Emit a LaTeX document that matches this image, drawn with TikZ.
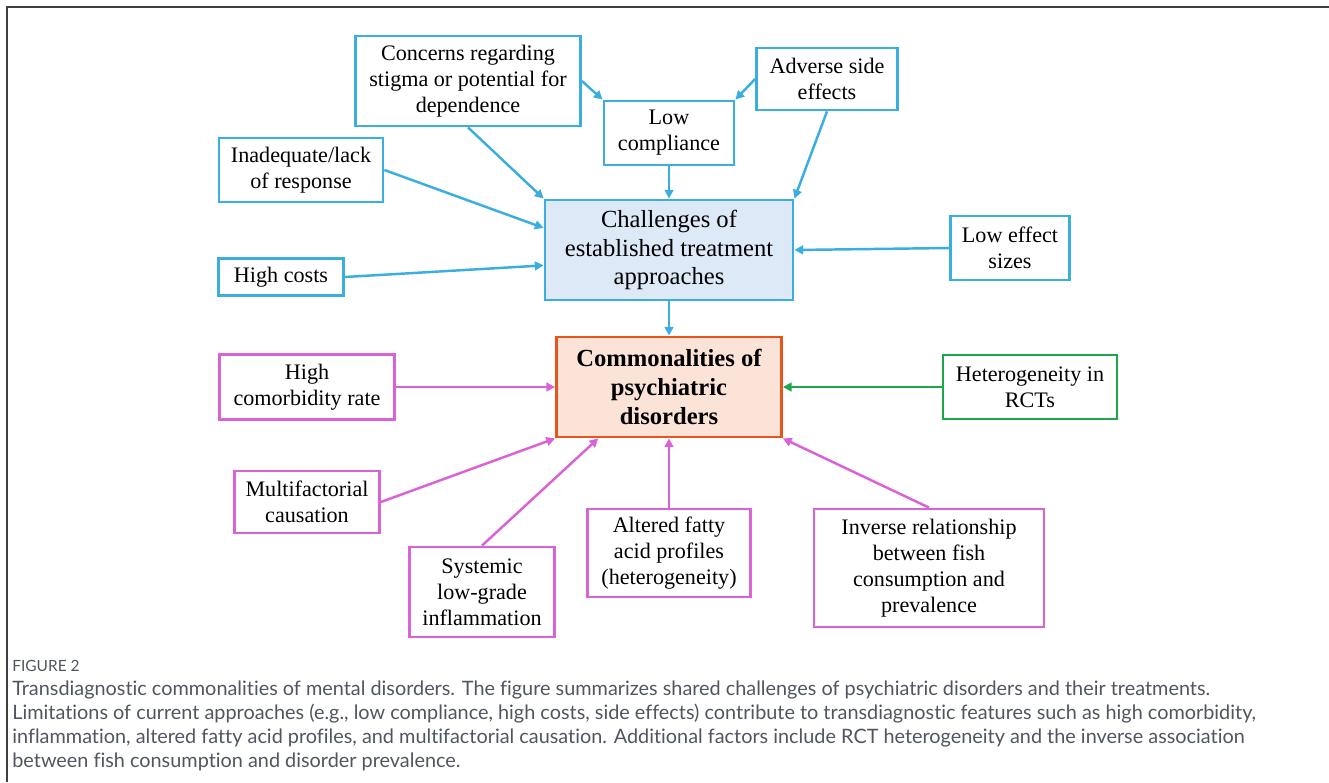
\documentclass[tikz,border=0pt]{standalone}
\usepackage{fontspec}
\setmainfont{Liberation Serif}
\newfontfamily\capfont[Ligatures=CommonOff]{Lato}
\usetikzlibrary{arrows.meta}

\definecolor{boxblue}{HTML}{3AAEE0}
\definecolor{boxpink}{HTML}{D862D6}
\definecolor{boxgreen}{HTML}{1BA84B}
\definecolor{boxorange}{HTML}{E8541C}
\definecolor{fillblue}{HTML}{DDE9F6}
\definecolor{fillorange}{HTML}{FBE3D7}
\definecolor{capgray}{HTML}{50565F}

\begin{document}
\begin{tikzpicture}[x=0.02cm, y=-0.02cm,
    sub/.style={draw, line width=1.6pt, fill=white, align=center, inner sep=0pt,
        font=\fontsize{12.6}{14.8}\selectfont},
    bluebox/.style={sub, draw=boxblue},
    pinkbox/.style={sub, draw=boxpink},
    greenbox/.style={sub, draw=boxgreen},
    hub/.style={draw, line width=1.6pt, align=center, inner sep=0pt,
        minimum width=4.5cm, minimum height=2cm, font=\fontsize{14}{16.4}\selectfont},
    link/.style={line width=1.4pt, -{Triangle[length=5pt,width=5pt]}},
]
    \useasboundingbox (0,0) rectangle (1329,782);

    % Frame (open to the right and bottom)
    \draw[line width=0.9pt, black!75] (7,782) -- (7,7) -- (1329,7);

    % Central nodes
    \node[hub, draw=boxblue, fill=fillblue, minimum width=4.96cm] (challenges) at (669,250)
        {Challenges of\\established treatment\\approaches};
    \node[hub, draw=boxorange, fill=fillorange, font=\fontsize{14}{16.4}\selectfont\bfseries] (common) at (669,387)
        {Commonalities of\\psychiatric\\disorders};

    % Treatment challenges (blue)
    \node[bluebox, minimum width=4.5cm, minimum height=1.8cm] (concerns) at (468,81)
        {Concerns regarding\\stigma or potential for\\dependence};
    \node[bluebox, minimum width=2.6cm, minimum height=1.28cm] (lowcomp) at (669,133)
        {Low\\compliance};
    \node[bluebox, minimum width=2.82cm, minimum height=1.24cm] (adverse) at (827,79)
        {Adverse side\\effects};
    \node[bluebox, minimum width=3.28cm, minimum height=1.28cm] (inadequate) at (301,170)
        {Inadequate/lack\\of response};
    \node[bluebox, minimum width=2.5cm, minimum height=0.74cm] (costs) at (281,277)
        {High costs};
    \node[bluebox, minimum width=2.38cm, minimum height=1.28cm] (effect) at (1010,248)
        {Low effect\\sizes};

    % Commonalities (pink, green)
    \node[pinkbox, minimum width=3.5cm, minimum height=1.3cm] (comorb) at (307,387)
        {High\\comorbidity rate};
    \node[greenbox, minimum width=3.48cm, minimum height=1.28cm] (rcts) at (1030,387)
        {Heterogeneity in\\RCTs};
    \node[pinkbox, minimum width=2.9cm, minimum height=1.24cm] (multif) at (307,502)
        {Multifactorial\\causation};
    \node[pinkbox, minimum width=2.9cm, minimum height=1.8cm] (systemic) at (482,592)
        {Systemic\\low-grade\\inflammation};
    \node[pinkbox, minimum width=3.26cm, minimum height=1.76cm] (fatty) at (669,553)
        {Altered fatty\\acid profiles\\(heterogeneity)};
    \node[pinkbox, minimum width=4.6cm, minimum height=2.36cm] (fish) at (929,568)
        {Inverse relationship\\between fish\\consumption and\\prevalence};

    % Arrows into the challenges box
    \draw[link, boxblue] (concerns.south) -- (challenges.north west);
    \draw[link, boxblue] (concerns.east) -- (lowcomp.north west);
    \draw[link, boxblue] (adverse.west) -- (lowcomp.north east);
    \draw[link, boxblue] (lowcomp.south) -- (challenges.north);
    \draw[link, boxblue] (adverse.south) -- (challenges.north east);
    \draw[link, boxblue] (inadequate.east) -- (challenges.170);
    \draw[link, boxblue] (costs.east) -- (challenges.187);
    \draw[link, boxblue] (effect.west) -- (challenges.east);
    \draw[link, boxblue] (challenges.south) -- (common.north);

    % Arrows into the commonalities box
    \draw[link, boxpink] (comorb.east) -- (common.west);
    \draw[link, boxgreen] (rcts.west) -- (common.east);
    \draw[link, boxpink] (multif.east) -- (common.south west);
    \draw[link, boxpink] (systemic.north) -- (common.216);
    \draw[link, boxpink] (fatty.north) -- (common.south);
    \draw[link, boxpink] (fish.north) -- (common.south east);

    % Caption
    \node[anchor=base west, inner sep=0pt, text=capgray, font=\capfont\fontsize{8.8}{10}\selectfont] (figlabel) at (12,671)
        {FIGURE 2};
    \node[anchor=north west, inner sep=0pt, align=left, text=capgray,
        font=\capfont\fontsize{11.3}{13.6}\selectfont] (caption) at (12,681)
        {Transdiagnostic commonalities of mental disorders. The figure summarizes shared challenges of psychiatric disorders and their treatments.\\
        Limitations of current approaches (e.g., low compliance, high costs, side effects) contribute to transdiagnostic features such as high comorbidity,\\
        inflammation, altered fatty acid profiles, and multifactorial causation. Additional factors include RCT heterogeneity and the inverse association\\
        between fish consumption and disorder prevalence.};
\end{tikzpicture}
\end{document}
